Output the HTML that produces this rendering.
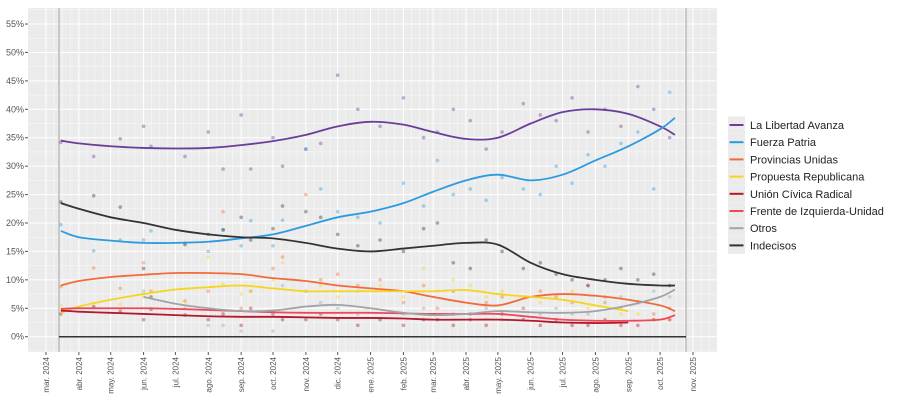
<!DOCTYPE html>
<html><head><meta charset="utf-8"><style>
body{margin:0;background:#fff;font-family:"Liberation Sans",sans-serif;}
svg{display:block}
</style></head><body>
<svg id="c" width="905" height="417"></svg>
<script>
const monthLabels=["mar. 2024","abr. 2024","may. 2024","jun. 2024","jul. 2024","ago. 2024","sep. 2024","oct. 2024","nov. 2024","dic. 2024","ene. 2025","feb. 2025","mar. 2025","abr. 2025","may. 2025","jun. 2025","jul. 2025","ago. 2025","sep. 2025","oct. 2025","nov. 2025"];
const yTicks=[0,5,10,15,20,25,30,35,40,45,50,55];
const lineDates=["2024-03-15","2024-04-01","2024-05-01","2024-06-01","2024-07-01","2024-08-01","2024-09-01","2024-10-01","2024-11-01","2024-12-01","2025-01-01","2025-02-01","2025-03-01","2025-04-01","2025-05-01","2025-06-01","2025-07-01","2025-08-01","2025-09-01","2025-10-01","2025-10-15"];
const seriesNames=["La Libertad Avanza","Fuerza Patria","Provincias Unidas","Propuesta Republicana","Unión Cívica Radical","Frente de Izquierda-Unidad","Otros","Indecisos"];
const seriesColors=["#6a3d9a","#2b9be0","#f26b38","#f7d51d","#b2182b","#f0475a","#a0a4a8","#333333"];
const lla=[34.5,34,33.5,33.2,33.1,33.2,33.7,34.4,35.5,37,37.8,37.3,36,34.8,35,37.5,39.5,40,39.2,37,35.5];
const fp=[18.6,17.5,16.9,16.5,16.5,16.7,17.3,18,19.5,21,22,23.5,25.5,27.5,28.5,27.5,28.5,31,33.5,36.5,38.5];
const pu=[9,9.8,10.5,10.9,11.2,11.2,11,10.3,9.8,9,8.5,8,7,6,5.5,7,7.5,7.2,6.5,5.5,4.5];
const pro=[4.2,5.3,6.5,7.5,8.3,8.7,9,8.5,8,8,8,8,8,8.2,7.5,7,6.5,5.5,4.5,null,null];
const ucr=[4.6,4.4,4.2,4,3.8,3.6,3.5,3.5,3.4,3.3,3.3,3.2,3,3,3,2.8,2.5,2.4,2.5,null,null];
const fit=[4.9,5,5,5,4.9,4.7,4.5,4.3,4.2,4.2,4.2,4.1,4,4,4,3.5,3,2.8,2.8,3,3.8];
const otros=[null,null,null,7,5.8,5,4.5,4.6,5.3,5.6,5,4.2,3.8,4,4.5,4.3,4.2,4.5,5.5,7,8.3];
const indec=[23.5,22.5,21,20,18.8,18,17.5,17.3,16.5,15.5,15,15.5,16,16.5,16.2,13,11,10,9.3,9,9];
const ptDates=["2024-03-15","2024-04-15","2024-05-10","2024-06-01","2024-06-08","2024-07-10","2024-08-01","2024-08-15","2024-09-01","2024-09-10","2024-10-01","2024-10-10","2024-11-01","2024-11-15","2024-12-01","2024-12-20","2025-01-10","2025-02-01","2025-02-20","2025-03-05","2025-03-20","2025-04-05","2025-04-20","2025-05-05","2025-05-25","2025-06-10","2025-06-25","2025-07-10","2025-07-25","2025-08-10","2025-08-25","2025-09-10","2025-09-25","2025-10-10"];
const ptLla=[34.2,31.7,34.8,37,33.5,31.7,36,29.5,39,29.5,35,30,33,34,46,40,37,42,35,36,40,38,33,36,41,39,38,42,36,40,37,44,40,35];
const ptFp=[19.7,15.1,17,17,18.6,16.5,15,18.8,16,20.4,16,20.5,33,26,22,21,20,27,23,31,25,26,24,28,26,25,30,27,32,30,34,36,26,43];
const ptPu=[8.8,12.1,8.5,13,8,6.3,8,22,5,8,12,14,25,10,11,9,10,6,9,5,8,4,6,7,5,8,7,6,9,7,5,6,4,5];
const ptPro=[5.5,5.2,5.7,7,8,6.2,14,9.3,7.5,8,10,13,8,9,7,8,9,7,12,8,10,9,7,8,7,6,7,8,5,6,4,4,3,3];
const ptUcr=[4,5.3,4.5,3,4.8,3.8,3,4,2,5,4,3,3,4,3,2,3,2,3,3,2,3,2,4,3,2,3,2,2,3,2,2,3,3];
const ptInd=[23.7,24.8,22.8,12,7,16.2,18,18.8,21,17,19,23,22,21,18,16,17,15,19,20,13,12,17,15,12,13,11,10,9,10,12,10,11,9];
const ptOtr=[null,null,null,8,5,5,2,2,1,4.5,1,9,8,6,5,4,3,4,5,3,4,4,5,3,5,4,5,4,4,6,7,6,8,7];

const S=document.getElementById('c');const NS="http://www.w3.org/2000/svg";
function el(t,a,p){const e=document.createElementNS(NS,t);for(const k in a)e.setAttribute(k,a[k]);(p||S).appendChild(e);return e;}
const D0=Date.UTC(2024,2,1),D1=Date.UTC(2025,10,1);
function dt(s){const p=s.split('-');return Date.UTC(+p[0],+p[1]-1,+p[2]);}
function X(d){return 46+(d-D0)/(D1-D0)*647;}
function Y(v){return 336.7-v*5.685;}
const L=28,R=717,T=8,B=352;
const bg=el('rect',{x:L,y:T,width:R-L,height:B-T,fill:'#ebebeb'});

// minor grid
for(let v=-2.5;v<=57.5;v+=2.5){if(Y(v)<T||Y(v)>B)continue;el('line',{x1:L,x2:R,y1:Y(v),y2:Y(v),stroke:'#fff','stroke-width':(v%5===0)?1:0.4});}
for(let i=0;i<=21;i++){const d=Date.UTC(2024,2+i,1);const x=X(d);if(x<L||x>R)continue;el('line',{x1:x,x2:x,y1:T,y2:B,stroke:'#fff','stroke-width':1});
 for(let w=1;w<4;w++){const xm=X(d+w*7.6*864e5);if(xm<R)el('line',{x1:xm,x2:xm,y1:T,y2:B,stroke:'#fff','stroke-width':0.4});}}
el('line',{x1:59,x2:59,y1:T,y2:B,stroke:'#c8c8c8','stroke-width':2});
el('line',{x1:686,x2:686,y1:T,y2:B,stroke:'#c8c8c8','stroke-width':2});
// y axis
yTicks.forEach(v=>{const t=el('text',{x:24,y:Y(v)+3,'text-anchor':'end','font-size':9,fill:'#555'});t.textContent=v+'%';

el('line',{x1:25,x2:28,y1:Y(v),y2:Y(v),stroke:'#555'});});
monthLabels.forEach((m,i)=>{const x=X(Date.UTC(2024,2+i,1));el('line',{x1:x,x2:x,y1:B,y2:B+3,stroke:'#555'});
const t=el('text',{transform:`translate(${x+3},${B+5}) rotate(-90)`,'text-anchor':'end','font-size':8,fill:'#555'});t.textContent=m;
});
// points
const ptSets=[ptLla,ptFp,ptPu,ptPro,ptUcr,null,ptOtr,ptInd];
ptSets.forEach((arr,si)=>{if(!arr)return;arr.forEach((v,i)=>{if(v==null)return;
const c=el('circle',{cx:X(dt(ptDates[i])),cy:Y(v),r:1.8,fill:seriesColors[si],opacity:0.4});
});});
// zero line
el('line',{x1:59,x2:686,y1:Y(0),y2:Y(0),stroke:'#333','stroke-width':1.5});
function smooth(pts){let d=`M${pts[0][0]},${pts[0][1]}`;for(let i=0;i<pts.length-1;i++){const p0=pts[i-1]||pts[i],p1=pts[i],p2=pts[i+1],p3=pts[i+2]||p2;
d+=` C${p1[0]+(p2[0]-p0[0])/6},${p1[1]+(p2[1]-p0[1])/6} ${p2[0]-(p3[0]-p1[0])/6},${p2[1]-(p3[1]-p1[1])/6} ${p2[0]},${p2[1]}`;}return d;}
const lines=[lla,fp,pu,pro,ucr,fit,otros,indec];
lines.forEach((arr,si)=>{const pts=[];arr.forEach((v,i)=>{if(v!=null)pts.push([X(dt(lineDates[i])),Y(v)]);});
const p=el('path',{d:smooth(pts),fill:'none',stroke:seriesColors[si],'stroke-width':1.8});
});
// legend
seriesNames.forEach((n,i)=>{const y=125+i*17.2;const g=el('g',{});

el('rect',{x:728,y:y-8.5,width:17,height:17,fill:'#ebebeb'},g);
el('line',{x1:729.5,x2:743.5,y1:y,y2:y,stroke:seriesColors[i],'stroke-width':2},g);
const t=el('text',{x:750,y:y+4,'font-size':11,fill:'#222'},g);t.textContent=n;});
</script>
</body></html>
